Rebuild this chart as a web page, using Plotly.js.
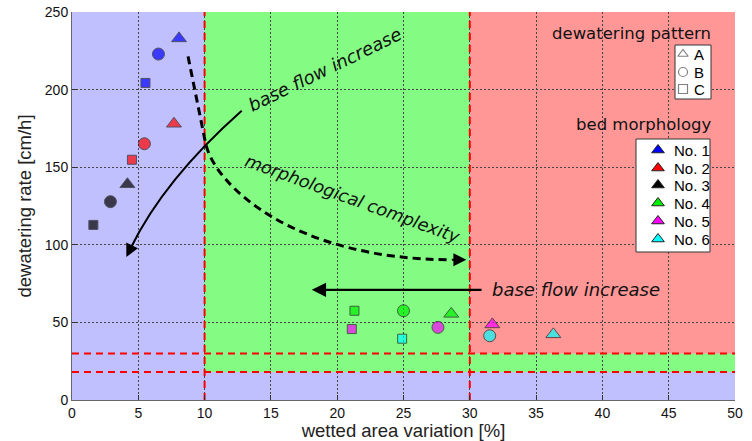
<!DOCTYPE html>
<html>
<head>
<meta charset="utf-8">
<script src="https://cdn.plot.ly/plotly-3.0.1.min.js"></script>
<style>html,body{margin:0;padding:0;background:#fff;}#chart{width:752px;height:441px;}</style>
</head>
<body>
<div id="chart"></div>
<script>
// ---- data ----
const patterns = ['A', 'B', 'C'];
const morphologies = ['No. 1', 'No. 2', 'No. 3', 'No. 4', 'No. 5', 'No. 6'];
// wetted area variation [%] for patterns A, B, C
const no1Area = [8.07, 6.52, 5.54];
const no2Area = [7.69, 5.46, 4.52];
const no3Area = [4.18, 2.90, 1.61];
const no4Area = [28.6, 25.0, 21.3];
const no5Area = [31.7, 27.6, 21.1];
const no6Area = [36.3, 31.5, 24.9];
// dewatering rate [cm/h] for patterns A, B, C
const no1Rate = [233, 222.9, 204.3];
const no2Rate = [178, 165.1, 154.8];
const no3Rate = [139, 127.8, 112.8];
const no4Rate = [55.5, 57.5, 57.5];
const no5Rate = [48.7, 46.8, 45.7];
const no6Rate = [42.3, 41.4, 39.5];
const areaThresholds = [10, 30];
const rateThresholds = [18, 30];
const xTicks = [0, 5, 10, 15, 20, 25, 30, 35, 40, 45, 50];
const yTicks = [0, 50, 100, 150, 200, 250];

// ---- layout / styles ----
const areas = [no1Area, no2Area, no3Area, no4Area, no5Area, no6Area];
const rates = [no1Rate, no2Rate, no3Rate, no4Rate, no5Rate, no6Rate];
const colors = ['#0000ff', '#ff0000', '#000000', '#00ee00', '#ff00ff', '#00ffff'];
const symbols = ['triangle-up', 'circle', 'square'];
const sizes = [13, 12, 9];
const openSymbols = ['triangle-up-open', 'circle-open', 'square-open'];
const blue = '#c0c0ff', green = '#84fc84', red = '#ff9797';

const W = 752, H = 441, M = {l: 72, r: 17, t: 12, b: 41};
const xMax = xTicks[xTicks.length - 1], yMax = yTicks[yTicks.length - 1];
const plotW = W - M.l - M.r, plotH = H - M.t - M.b;
const px2x = px => (px - M.l) / plotW * xMax;
const py2y = py => (M.t + plotH - py) / plotH * yMax;

// hand-drawn legend boxes (pixel placement)
const patternLegend = {box: [675, 711, 45, 99], symbolX: 683, textX: 693, rows: [54, 72, 89]};
const morphLegend = {box: [636, 710, 139, 252], symbolX: 658, textX: 673, rows: [150, 168, 185, 203, 221, 239]};

const traces = [];
morphologies.forEach((m, i) => {
  traces.push({
    type: 'scatter', mode: 'markers', name: m, showlegend: false, cliponaxis: false,
    x: areas[i], y: rates[i],
    marker: {symbol: symbols, size: sizes, color: colors[i], line: {color: '#222', width: 1}}
  });
});
// legend symbols
traces.push({
  type: 'scatter', mode: 'markers', name: 'dewatering pattern', showlegend: false, hoverinfo: 'skip',
  x: patterns.map(() => px2x(patternLegend.symbolX)), y: patternLegend.rows.map(py2y),
  marker: {symbol: openSymbols, size: 9, color: '#808080', line: {width: 1.2}}
});
traces.push({
  type: 'scatter', mode: 'markers', name: 'bed morphology', showlegend: false, hoverinfo: 'skip',
  x: morphologies.map(() => px2x(morphLegend.symbolX)), y: morphLegend.rows.map(py2y),
  marker: {symbol: 'triangle-up', size: 11, color: colors, line: {color: '#222', width: 1}}
});

const redLine = {color: '#ff0000', width: 2, dash: '7px,5px'};
const boxShape = b => ({type: 'rect', xref: 'x', yref: 'y', x0: px2x(b[0]), x1: px2x(b[1]), y0: py2y(b[3]), y1: py2y(b[2]), fillcolor: '#ffffff', line: {color: '#333', width: 1}, layer: 'between'});
const shapes = [
  {type: 'rect', xref: 'x', yref: 'y', x0: 0, x1: xMax, y0: 0, y1: yMax, fillcolor: blue, line: {width: 0}, layer: 'below'},
  {type: 'rect', xref: 'x', yref: 'y', x0: areaThresholds[0], x1: xMax, y0: rateThresholds[0], y1: rateThresholds[1], fillcolor: green, line: {width: 0}, layer: 'below'},
  {type: 'rect', xref: 'x', yref: 'y', x0: areaThresholds[0], x1: areaThresholds[1], y0: rateThresholds[1], y1: yMax, fillcolor: green, line: {width: 0}, layer: 'below'},
  {type: 'rect', xref: 'x', yref: 'y', x0: areaThresholds[1], x1: xMax, y0: rateThresholds[1], y1: yMax, fillcolor: red, line: {width: 0}, layer: 'below'},
  {type: 'line', xref: 'x', yref: 'y', x0: areaThresholds[0], x1: areaThresholds[0], y0: 0, y1: yMax, line: redLine, layer: 'between'},
  {type: 'line', xref: 'x', yref: 'y', x0: areaThresholds[1], x1: areaThresholds[1], y0: 0, y1: yMax, line: redLine, layer: 'between'},
  {type: 'line', xref: 'x', yref: 'y', x0: 0, x1: xMax, y0: rateThresholds[0], y1: rateThresholds[0], line: redLine, layer: 'between'},
  {type: 'line', xref: 'x', yref: 'y', x0: 0, x1: xMax, y0: rateThresholds[1], y1: rateThresholds[1], line: redLine, layer: 'between'},
  boxShape(patternLegend.box),
  boxShape(morphLegend.box),
  // curved solid arrow (base flow increase)
  {type: 'path', xref: 'x', yref: 'y', path: 'M 12.8,186.4 C 9.13,158.6 6.24,129.8 4.43,97.9', line: {color: '#000', width: 2}, layer: 'above'},
  // curved dashed arrow (morphological complexity)
  {type: 'path', xref: 'x', yref: 'y', path: 'M 8.75,221.4 L 10.06,166.0 C 10.73,137.6 16.87,90.4 28.6,90.4', line: {color: '#000', width: 3, dash: '8px,5px'}, layer: 'above'}
];

const italic = {family: 'DejaVu Sans', size: 18, color: '#111', style: 'italic'};
const legendFont = {family: 'Liberation Sans', size: 15, color: '#000'};
const annotations = [
  {xref: 'x', yref: 'y', x: 4.1, y: 92.1, ax: 6.6, ay: -13.5, text: '', showarrow: true, arrowhead: 2, arrowsize: 1.3, arrowwidth: 2, arrowcolor: '#000'},
  {xref: 'x', yref: 'y', x: 29.74, y: 90.4, ax: -16, ay: 0, text: '', showarrow: true, arrowhead: 2, arrowsize: 1.3, arrowwidth: 2, arrowcolor: '#000'},
  {xref: 'x', yref: 'y', x: 18.08, y: 71, axref: 'x', ayref: 'y', ax: 31.0, ay: 71, text: '', showarrow: true, arrowhead: 2, arrowsize: 1.3, arrowwidth: 2.2, arrowcolor: '#000'},
  {xref: 'x', yref: 'y', x: 31.55, y: 71, xanchor: 'left', yanchor: 'middle', text: 'base flow increase', showarrow: false, font: italic},
  {xref: 'x', yref: 'y', x: 19.06, y: 212.8, text: 'base flow increase', textangle: -26, showarrow: false, font: italic},
  {xref: 'x', yref: 'y', x: 21.19, y: 129.7, text: 'morphological complexity', textangle: 20, showarrow: false, font: {family: 'DejaVu Sans', size: 17.5, color: '#111', style: 'italic'}},
  {xref: 'x', yref: 'y', x: px2x(713), y: py2y(33), xanchor: 'right', yanchor: 'middle', text: 'dewatering pattern', showarrow: false, font: {family: 'DejaVu Sans', size: 16.5, color: '#111'}},
  {xref: 'x', yref: 'y', x: px2x(713), y: py2y(124), xanchor: 'right', yanchor: 'middle', text: 'bed morphology', showarrow: false, font: {family: 'DejaVu Sans', size: 16.5, color: '#111'}}
];
patterns.forEach((p, i) => annotations.push({xref: 'x', yref: 'y', x: px2x(patternLegend.textX), y: py2y(patternLegend.rows[i]), xanchor: 'left', yanchor: 'middle', text: p, showarrow: false, font: legendFont, borderpad: 0}));
morphologies.forEach((m, i) => annotations.push({xref: 'x', yref: 'y', x: px2x(morphLegend.textX), y: py2y(morphLegend.rows[i]), xanchor: 'left', yanchor: 'middle', text: m, showarrow: false, font: legendFont, borderpad: 0}));

const axisCommon = {
  ticks: 'inside', ticklen: 5, tickcolor: '#333', showline: true, linecolor: '#666', linewidth: 1,
  showgrid: true, gridcolor: '#444', griddash: '2px,2px', gridwidth: 1, zeroline: false,
  tickfont: {size: 14, color: '#111'}, fixedrange: true
};
const layout = {
  width: W, height: H, margin: M, showlegend: false,
  paper_bgcolor: '#ffffff', plot_bgcolor: blue,
  font: {family: 'Liberation Sans', color: '#222'},
  xaxis: Object.assign({}, axisCommon, {
    range: [0, xMax], tickvals: xTicks, ticktext: xTicks.map(String),
    title: {text: 'wetted area variation [%]', font: {size: 18.5, color: '#222'}, standoff: 4}
  }),
  yaxis: Object.assign({}, axisCommon, {
    range: [0, yMax], tickvals: yTicks, ticktext: yTicks.map(String),
    title: {text: 'dewatering rate [cm/h]', font: {size: 18.5, color: '#222'}, standoff: 8}
  }),
  shapes: shapes,
  annotations: annotations
};

Plotly.newPlot('chart', traces, layout, {displayModeBar: false, staticPlot: true});
</script>
</body>
</html>
